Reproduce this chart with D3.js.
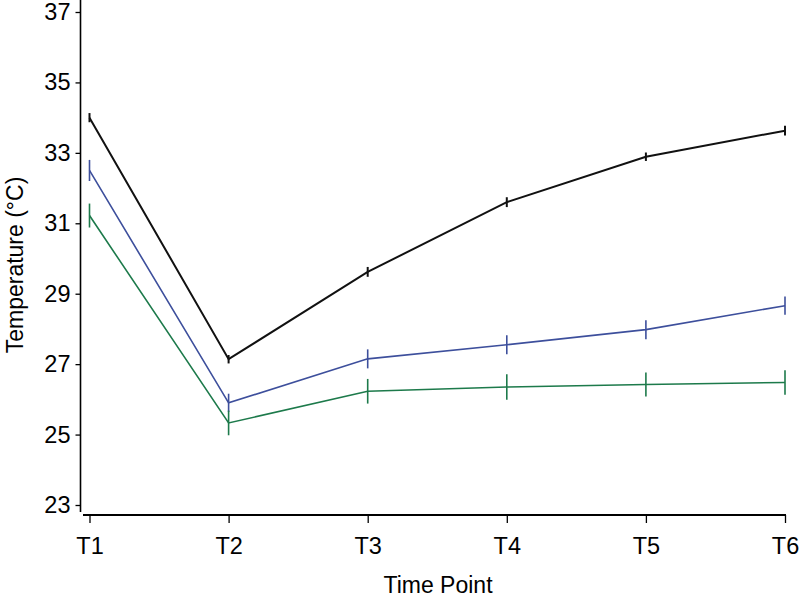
<!DOCTYPE html>
<html>
<head>
<meta charset="utf-8">
<script src="https://cdn.jsdelivr.net/npm/d3@7"></script>
<style>
  html, body { margin: 0; padding: 0; background: #fff; }
  text { font-family: "Liberation Sans", Arial, sans-serif; fill: #000; }
</style>
</head>
<body>
<svg id="chart" width="800" height="600"></svg>
<script>
const timePoints = ["T1", "T2", "T3", "T4", "T5", "T6"];
const yTicks = [23, 25, 27, 29, 31, 33, 35, 37];
const blackMean = [34.0, 27.14, 29.62, 31.6, 32.89, 33.63];
const blackErr  = [0.13, 0.12, 0.14, 0.14, 0.12, 0.14];
const blueMean  = [32.5, 25.9, 27.15, 27.55, 27.98, 28.66];
const blueErr   = [0.3, 0.26, 0.27, 0.27, 0.27, 0.26];
const greenMean = [31.22, 25.33, 26.23, 26.35, 26.42, 26.48];
const greenErr  = [0.34, 0.35, 0.35, 0.36, 0.34, 0.35];

const series = [
  { mean: blackMean, err: blackErr, color: "#111111", width: 2 },
  { mean: blueMean,  err: blueErr,  color: "#3d4f9c", width: 1.6 },
  { mean: greenMean, err: greenErr, color: "#1d7a4b", width: 1.6 }
];

const svg = d3.select("#chart");
const x = d3.scalePoint().domain(timePoints).range([89.5, 785]);
const y = d3.scaleLinear().domain([23, 37]).range([505, 12]);

// Y axis
const yAxis = svg.append("g").attr("transform", "translate(80.5,0)")
  .call(d3.axisLeft(y).tickValues(yTicks).tickSize(5).tickSizeOuter(0).tickPadding(5));
yAxis.select(".domain").attr("d", "M0,0V512").attr("stroke", "#000").attr("stroke-width", 1.6);
yAxis.selectAll(".tick line").attr("stroke", "#000").attr("stroke-width", 1.3);
yAxis.selectAll(".tick text").style("font-size", "23.5px").attr("font-family", null);

// X axis
const xAxis = svg.append("g").attr("transform", "translate(0,515)")
  .call(d3.axisBottom(x).tickSize(8).tickSizeOuter(0).tickPadding(14));
xAxis.select(".domain").attr("d", "M83,0H786").attr("stroke", "#000").attr("stroke-width", 1.8);
xAxis.selectAll(".tick line").attr("stroke", "#000").attr("stroke-width", 1.3);
xAxis.selectAll(".tick text").style("font-size", "23.5px").attr("font-family", null);

// Axis titles
svg.append("text").attr("x", 438).attr("y", 593).attr("text-anchor", "middle")
  .style("font-size", "23px").text("Time Point");
svg.append("text").attr("transform", "translate(23,265) rotate(-90)").attr("text-anchor", "middle")
  .style("font-size", "23px").text("Temperature (°C)");

// Lines & error bars
const line = d3.line().x((d, i) => x(timePoints[i])).y(d => y(d));
series.forEach(s => {
  svg.append("path").datum(s.mean).attr("d", line)
    .attr("fill", "none").attr("stroke", s.color).attr("stroke-width", s.width);
  svg.append("g").selectAll("line").data(s.mean).join("line")
    .attr("x1", (d, i) => x(timePoints[i])).attr("x2", (d, i) => x(timePoints[i]))
    .attr("y1", (d, i) => y(d + s.err[i])).attr("y2", (d, i) => y(d - s.err[i]))
    .attr("stroke", s.color).attr("stroke-width", s.width);
});
</script>
</body>
</html>
